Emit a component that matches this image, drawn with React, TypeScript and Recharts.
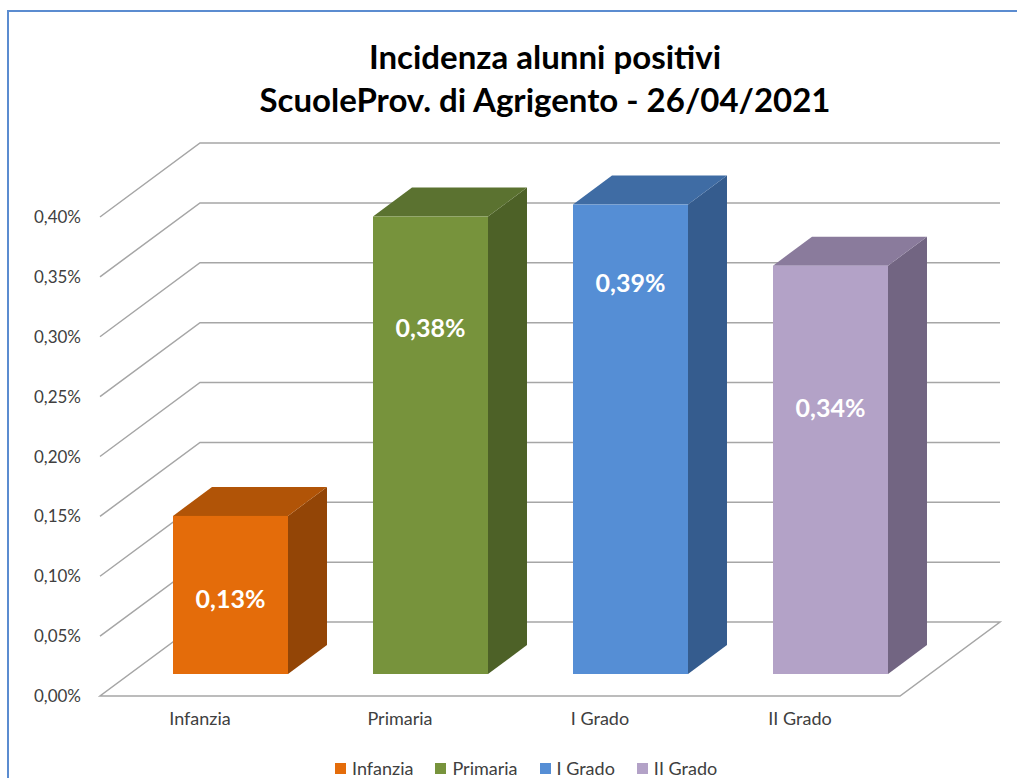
import { Bar, BarChart, CartesianGrid, LabelList, Legend, XAxis, YAxis } from "recharts";

const categories = ["Infanzia", "Primaria", "I Grado", "II Grado"];
const incidence = [0.132, 0.382, 0.392, 0.341];
const yTicks = [0, 0.05, 0.1, 0.15, 0.2, 0.25, 0.3, 0.35, 0.4];
const frontColors = ["#e46c0a", "#77933c", "#558ed5", "#b3a2c7"];
const topColors = ["#b15407", "#5b7230", "#3f6ca4", "#8a7b9c"];
const sideColors = ["#934506", "#4d6127", "#355c8e", "#726582"];
// where each data label sits on the front face (fraction of its height, from the top)
const labelPos = [0.52, 0.242, 0.164, 0.347];

const data = categories.map((name, i) => ({ name, value: incidence[i], idx: i }));

// oblique "3D" offsets
const WALL_DX = 100;
const WALL_DY = -74;
const BAR_SHIFT_X = 30;
const BAR_SHIFT_Y = -22;
const BAR_DX = 39;
const BAR_DY = -29;
const PLOT_BOTTOM = 696;
const GRID = "#a6a6a6";
const FONT = "Lato, 'Open Sans', sans-serif";

const fmt = (v: number) => `${v.toFixed(2).replace(".", ",")}%`;

function Box3D(props: any) {
  const { x, y, width, height, payload } = props;
  if (!height || height <= 0) return null;
  const i = payload.idx;
  const fx = x + BAR_SHIFT_X;
  const fy = y + BAR_SHIFT_Y;
  const r = fx + width;
  const b = fy + height;
  return (
    <g>
      <path
        d={`M${r},${fy} L${r + BAR_DX},${fy + BAR_DY} L${r + BAR_DX},${b + BAR_DY} L${r},${b} Z`}
        fill={sideColors[i]}
      />
      <path
        d={`M${fx},${fy} L${fx + BAR_DX},${fy + BAR_DY} L${r + BAR_DX},${fy + BAR_DY} L${r},${fy} Z`}
        fill={topColors[i]}
      />
      <rect x={fx} y={fy} width={width} height={height} fill={frontColors[i]} />
    </g>
  );
}

function gridLine(props: any) {
  const { x1, y1, x2, index } = props;
  const by = y1 + WALL_DY;
  if (Math.abs(y1 - PLOT_BOTTOM) < 1) {
    return (
      <path
        key={`g${index}`}
        d={`M${x1},${y1} L${x2},${y1} L${x2 + WALL_DX},${by} L${x1 + WALL_DX},${by} Z`}
        fill="none"
        stroke={GRID}
        strokeWidth={1.5}
      />
    );
  }
  return (
    <path
      key={`g${index}`}
      d={`M${x1},${y1} L${x1 + WALL_DX},${by} L${x2 + WALL_DX},${by}`}
      fill="none"
      stroke={GRID}
      strokeWidth={1.5}
    />
  );
}

function ValueLabel(props: any) {
  const { x, y, width, height, value, index } = props;
  return (
    <text
      x={x + BAR_SHIFT_X + width / 2}
      y={y + BAR_SHIFT_Y + height * labelPos[index]}
      textAnchor="middle"
      dominantBaseline="central"
      fill="#ffffff"
      fontFamily={FONT}
      fontWeight={700}
      fontSize={25}
    >
      {fmt(value)}
    </text>
  );
}

function LegendBox() {
  return (
    <div
      style={{
        display: "flex",
        alignItems: "center",
        gap: 22,
        paddingLeft: 335,
        paddingTop: 16,
        fontFamily: FONT,
        fontSize: 18,
        color: "#404040",
        lineHeight: "18px",
      }}
    >
      {categories.map((c, i) => (
        <div key={c} style={{ display: "flex", alignItems: "center", gap: 6 }}>
          <span style={{ width: 11, height: 11, background: frontColors[i], display: "inline-block" }} />
          <span>{c}</span>
        </div>
      ))}
    </div>
  );
}

export default function App() {
  return (
    <div style={{ position: "absolute", left: 0, top: 0, width: 1017, height: 778, background: "#fff", overflow: "hidden" }}>
      <div
        style={{
          position: "absolute",
          left: 7,
          top: 10,
          right: 0,
          bottom: 0,
          borderTop: "2px solid #5b8cd0",
          borderLeft: "2px solid #5b8cd0",
        }}
      />
      <div
        style={{
          position: "absolute",
          left: 0,
          width: 1090,
          top: 35,
          textAlign: "center",
          fontFamily: FONT,
          fontWeight: 700,
          fontSize: 33,
          lineHeight: "43px",
          color: "#000",
        }}
      >
        Incidenza alunni positivi
        <br />
        ScuoleProv. di Agrigento - 26/04/2021
      </div>
      <BarChart
        width={1017}
        height={778}
        data={data}
        margin={{ top: 217, right: 117, left: 0, bottom: 0 }}
        barSize={115}
        style={{ position: "absolute", left: 0, top: 0 }}
      >
        <CartesianGrid vertical={false} horizontal={gridLine} />
        <XAxis
          dataKey="name"
          height={47}
          axisLine={false}
          tickLine={false}
          tickSize={0}
          tickMargin={16}
          tick={{ fill: "#404040", fontSize: 18, fontFamily: FONT }}
        />
        <YAxis
          width={100}
          domain={[0, 0.4]}
          ticks={yTicks}
          axisLine={false}
          tickLine={false}
          tickSize={0}
          tickMargin={19}
          tickFormatter={fmt}
          tick={{ fill: "#404040", fontSize: 17, fontFamily: FONT }}
        />
        <Legend verticalAlign="bottom" height={35} content={() => <LegendBox />} />
        <Bar dataKey="value" shape={Box3D} isAnimationActive={false}>
          <LabelList dataKey="value" content={ValueLabel} />
        </Bar>
      </BarChart>
    </div>
  );
}
